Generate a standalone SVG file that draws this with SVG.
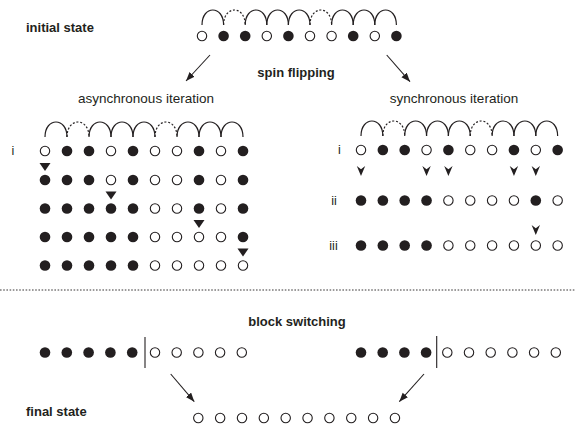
<svg xmlns="http://www.w3.org/2000/svg" width="575" height="427" viewBox="0 0 575 427">
<style>
.o{fill:#fff;stroke:#231f20;stroke-width:1.1}
.f{fill:#231f20}
.arc{fill:none;stroke:#231f20;stroke-width:1.2}
.dash{stroke-dasharray:2 1.8}
.t{font-family:"Liberation Sans",Arial,sans-serif;font-size:13.5px;fill:#231f20}
.b{font-family:"Liberation Sans",Arial,sans-serif;font-size:13px;font-weight:bold;fill:#231f20}
.lab{font-family:"Liberation Sans",Arial,sans-serif;font-size:12.5px;fill:#231f20;text-anchor:middle}
.line{stroke:#231f20;stroke-width:1.1;fill:none}
</style>
<defs>
<marker id="ah" markerUnits="userSpaceOnUse" markerWidth="10" markerHeight="8" refX="9" refY="3.5" orient="auto">
<path d="M0,0 L9,3.5 L0,7 z" fill="#231f20"/>
</marker>
<path id="vh" d="M0,10 L-4.2,0 L0,3.2 L4.2,0 Z" fill="#231f20"/>
<path id="td" d="M-5.5,0 L5.5,0 L0,8 Z" fill="#231f20"/>
</defs>

<!-- texts -->
<text class="b" x="26" y="32">initial state</text>
<text class="b" x="296" y="77" text-anchor="middle">spin flipping</text>
<text class="t" x="146" y="103" text-anchor="middle">asynchronous iteration</text>
<text class="t" x="454" y="103" text-anchor="middle">synchronous iteration</text>
<text class="b" x="297" y="326" text-anchor="middle">block switching</text>
<text class="b" x="26" y="416">final state</text>
<text class="lab" x="13" y="155">i</text>
<text class="lab" x="339.5" y="154">i</text>
<text class="lab" x="334" y="205">ii</text>
<text class="lab" x="333.5" y="250">iii</text>

<!-- initial state -->
<g id="initial">
<g class="arcs">
<path class="arc" d="M202,25 C202,5 223.6,5 223.6,25"/>
<path class="arc dash" d="M223.6,25 C223.6,5 245.2,5 245.2,25"/>
<path class="arc" d="M245.2,25 C245.2,5 266.8,5 266.8,25"/>
<path class="arc" d="M266.8,25 C266.8,5 288.4,5 288.4,25"/>
<path class="arc" d="M288.4,25 C288.4,5 310,5 310,25"/>
<path class="arc dash" d="M310,25 C310,5 331.6,5 331.6,25"/>
<path class="arc" d="M331.6,25 C331.6,5 353.2,5 353.2,25"/>
<path class="arc" d="M353.2,25 C353.2,5 374.8,5 374.8,25"/>
<path class="arc" d="M374.8,25 C374.8,5 396.4,5 396.4,25"/>
</g>
<circle class="o" cx="202" cy="36" r="4.7"/>
<circle class="f" cx="223.6" cy="36" r="5.3"/>
<circle class="f" cx="245.2" cy="36" r="5.3"/>
<circle class="o" cx="266.8" cy="36" r="4.7"/>
<circle class="f" cx="288.4" cy="36" r="5.3"/>
<circle class="o" cx="310" cy="36" r="4.7"/>
<circle class="o" cx="331.6" cy="36" r="4.7"/>
<circle class="f" cx="353.2" cy="36" r="5.3"/>
<circle class="o" cx="374.8" cy="36" r="4.7"/>
<circle class="f" cx="396.4" cy="36" r="5.3"/>
</g>

<!-- asynchronous -->
<g id="async">
<g class="arcs">
<path class="arc" d="M45,137 C45,117 67,117 67,137"/>
<path class="arc dash" d="M67,137 C67,117 89,117 89,137"/>
<path class="arc" d="M89,137 C89,117 111,117 111,137"/>
<path class="arc" d="M111,137 C111,117 133,117 133,137"/>
<path class="arc" d="M133,137 C133,117 155,117 155,137"/>
<path class="arc dash" d="M155,137 C155,117 177,117 177,137"/>
<path class="arc" d="M177,137 C177,117 199,117 199,137"/>
<path class="arc" d="M199,137 C199,117 221,117 221,137"/>
<path class="arc" d="M221,137 C221,117 243,117 243,137"/>
</g>
<g id="async-row1">
<circle class="o" cx="45" cy="151" r="4.7"/>
<circle class="f" cx="67" cy="151" r="5.3"/>
<circle class="f" cx="89" cy="151" r="5.3"/>
<circle class="o" cx="111" cy="151" r="4.7"/>
<circle class="f" cx="133" cy="151" r="5.3"/>
<circle class="o" cx="155" cy="151" r="4.7"/>
<circle class="o" cx="177" cy="151" r="4.7"/>
<circle class="f" cx="199" cy="151" r="5.3"/>
<circle class="o" cx="221" cy="151" r="4.7"/>
<circle class="f" cx="243" cy="151" r="5.3"/>
</g>
<use href="#td" x="45" y="163"/>
<g id="async-row2">
<circle class="f" cx="45" cy="180" r="5.3"/>
<circle class="f" cx="67" cy="180" r="5.3"/>
<circle class="f" cx="89" cy="180" r="5.3"/>
<circle class="o" cx="111" cy="180" r="4.7"/>
<circle class="f" cx="133" cy="180" r="5.3"/>
<circle class="o" cx="155" cy="180" r="4.7"/>
<circle class="o" cx="177" cy="180" r="4.7"/>
<circle class="f" cx="199" cy="180" r="5.3"/>
<circle class="o" cx="221" cy="180" r="4.7"/>
<circle class="f" cx="243" cy="180" r="5.3"/>
</g>
<use href="#td" x="111" y="191.5"/>
<g id="async-row3">
<circle class="f" cx="45" cy="208.5" r="5.3"/>
<circle class="f" cx="67" cy="208.5" r="5.3"/>
<circle class="f" cx="89" cy="208.5" r="5.3"/>
<circle class="f" cx="111" cy="208.5" r="5.3"/>
<circle class="f" cx="133" cy="208.5" r="5.3"/>
<circle class="o" cx="155" cy="208.5" r="4.7"/>
<circle class="o" cx="177" cy="208.5" r="4.7"/>
<circle class="f" cx="199" cy="208.5" r="5.3"/>
<circle class="o" cx="221" cy="208.5" r="4.7"/>
<circle class="f" cx="243" cy="208.5" r="5.3"/>
</g>
<use href="#td" x="199" y="220"/>
<g id="async-row4">
<circle class="f" cx="45" cy="237" r="5.3"/>
<circle class="f" cx="67" cy="237" r="5.3"/>
<circle class="f" cx="89" cy="237" r="5.3"/>
<circle class="f" cx="111" cy="237" r="5.3"/>
<circle class="f" cx="133" cy="237" r="5.3"/>
<circle class="o" cx="155" cy="237" r="4.7"/>
<circle class="o" cx="177" cy="237" r="4.7"/>
<circle class="o" cx="199" cy="237" r="4.7"/>
<circle class="o" cx="221" cy="237" r="4.7"/>
<circle class="f" cx="243" cy="237" r="5.3"/>
</g>
<use href="#td" x="243" y="248.5"/>
<g id="async-row5">
<circle class="f" cx="45" cy="265.5" r="5.3"/>
<circle class="f" cx="67" cy="265.5" r="5.3"/>
<circle class="f" cx="89" cy="265.5" r="5.3"/>
<circle class="f" cx="111" cy="265.5" r="5.3"/>
<circle class="f" cx="133" cy="265.5" r="5.3"/>
<circle class="o" cx="155" cy="265.5" r="4.7"/>
<circle class="o" cx="177" cy="265.5" r="4.7"/>
<circle class="o" cx="199" cy="265.5" r="4.7"/>
<circle class="o" cx="221" cy="265.5" r="4.7"/>
<circle class="o" cx="243" cy="265.5" r="4.7"/>
</g>
</g>

<!-- synchronous -->
<g id="sync">
<g class="arcs">
<path class="arc" d="M361,136 C361,116 382.85,116 382.85,136"/>
<path class="arc dash" d="M382.85,136 C382.85,116 404.7,116 404.7,136"/>
<path class="arc" d="M404.7,136 C404.7,116 426.55,116 426.55,136"/>
<path class="arc" d="M426.55,136 C426.55,116 448.4,116 448.4,136"/>
<path class="arc" d="M448.4,136 C448.4,116 470.25,116 470.25,136"/>
<path class="arc dash" d="M470.25,136 C470.25,116 492.1,116 492.1,136"/>
<path class="arc" d="M492.1,136 C492.1,116 513.95,116 513.95,136"/>
<path class="arc" d="M513.95,136 C513.95,116 535.8,116 535.8,136"/>
<path class="arc" d="M535.8,136 C535.8,116 557.65,116 557.65,136"/>
</g>
<g id="sync-row1">
<circle class="o" cx="361" cy="150" r="4.7"/>
<circle class="f" cx="382.85" cy="150" r="5.3"/>
<circle class="f" cx="404.7" cy="150" r="5.3"/>
<circle class="o" cx="426.55" cy="150" r="4.7"/>
<circle class="f" cx="448.4" cy="150" r="5.3"/>
<circle class="o" cx="470.25" cy="150" r="4.7"/>
<circle class="o" cx="492.1" cy="150" r="4.7"/>
<circle class="f" cx="513.95" cy="150" r="5.3"/>
<circle class="o" cx="535.8" cy="150" r="4.7"/>
<circle class="f" cx="557.65" cy="150" r="5.3"/>
</g>
<use href="#vh" x="361" y="166"/>
<use href="#vh" x="426.55" y="166"/>
<use href="#vh" x="448.4" y="166"/>
<use href="#vh" x="513.95" y="166"/>
<use href="#vh" x="535.8" y="166"/>
<g id="sync-row2">
<circle class="f" cx="361" cy="200.5" r="5.3"/>
<circle class="f" cx="382.85" cy="200.5" r="5.3"/>
<circle class="f" cx="404.7" cy="200.5" r="5.3"/>
<circle class="f" cx="426.55" cy="200.5" r="5.3"/>
<circle class="o" cx="448.4" cy="200.5" r="4.7"/>
<circle class="o" cx="470.25" cy="200.5" r="4.7"/>
<circle class="o" cx="492.1" cy="200.5" r="4.7"/>
<circle class="o" cx="513.95" cy="200.5" r="4.7"/>
<circle class="f" cx="535.8" cy="200.5" r="5.3"/>
<circle class="o" cx="557.65" cy="200.5" r="4.7"/>
</g>
<use href="#vh" x="535.8" y="225"/>
<g id="sync-row3">
<circle class="f" cx="361" cy="245.5" r="5.3"/>
<circle class="f" cx="382.85" cy="245.5" r="5.3"/>
<circle class="f" cx="404.7" cy="245.5" r="5.3"/>
<circle class="f" cx="426.55" cy="245.5" r="5.3"/>
<circle class="o" cx="448.4" cy="245.5" r="4.7"/>
<circle class="o" cx="470.25" cy="245.5" r="4.7"/>
<circle class="o" cx="492.1" cy="245.5" r="4.7"/>
<circle class="o" cx="513.95" cy="245.5" r="4.7"/>
<circle class="o" cx="535.8" cy="245.5" r="4.7"/>
<circle class="o" cx="557.65" cy="245.5" r="4.7"/>
</g>
</g>

<!-- separator -->
<line x1="0" y1="290" x2="575" y2="290" stroke="#231f20" stroke-width="0.9" stroke-dasharray="1.6 1.6"/>

<!-- block switching -->
<g id="block-left">
<circle class="f" cx="45" cy="352.5" r="5.3"/>
<circle class="f" cx="66.8" cy="352.5" r="5.3"/>
<circle class="f" cx="88.6" cy="352.5" r="5.3"/>
<circle class="f" cx="110.4" cy="352.5" r="5.3"/>
<circle class="f" cx="132.2" cy="352.5" r="5.3"/>
<line class="line" x1="145" y1="337" x2="145" y2="368"/>
<circle class="o" cx="155" cy="352.5" r="4.7"/>
<circle class="o" cx="176.7" cy="352.5" r="4.7"/>
<circle class="o" cx="198.4" cy="352.5" r="4.7"/>
<circle class="o" cx="220.1" cy="352.5" r="4.7"/>
<circle class="o" cx="241.8" cy="352.5" r="4.7"/>
</g>
<g id="block-right">
<circle class="f" cx="361" cy="352.5" r="5.3"/>
<circle class="f" cx="382.7" cy="352.5" r="5.3"/>
<circle class="f" cx="404.4" cy="352.5" r="5.3"/>
<circle class="f" cx="426.1" cy="352.5" r="5.3"/>
<line class="line" x1="436.7" y1="336" x2="436.7" y2="368"/>
<circle class="o" cx="447.3" cy="352.5" r="4.7"/>
<circle class="o" cx="469" cy="352.5" r="4.7"/>
<circle class="o" cx="490.7" cy="352.5" r="4.7"/>
<circle class="o" cx="512.4" cy="352.5" r="4.7"/>
<circle class="o" cx="534.1" cy="352.5" r="4.7"/>
<circle class="o" cx="555.8" cy="352.5" r="4.7"/>
</g>

<!-- final state -->
<g id="final">
<circle class="o" cx="198.3" cy="418" r="4.7"/>
<circle class="o" cx="220.15" cy="418" r="4.7"/>
<circle class="o" cx="242" cy="418" r="4.7"/>
<circle class="o" cx="263.85" cy="418" r="4.7"/>
<circle class="o" cx="285.7" cy="418" r="4.7"/>
<circle class="o" cx="307.55" cy="418" r="4.7"/>
<circle class="o" cx="329.4" cy="418" r="4.7"/>
<circle class="o" cx="351.25" cy="418" r="4.7"/>
<circle class="o" cx="373.1" cy="418" r="4.7"/>
<circle class="o" cx="394.95" cy="418" r="4.7"/>
</g>

<!-- connectors -->
<g id="connectors">
<line class="line" x1="210" y1="55" x2="186" y2="81" marker-end="url(#ah)"/>
<line class="line" x1="386.7" y1="55" x2="410" y2="81.7" marker-end="url(#ah)"/>
<line class="line" x1="170.7" y1="374" x2="194.3" y2="401.7" marker-end="url(#ah)"/>
<line class="line" x1="424" y1="374" x2="399.3" y2="401.7" marker-end="url(#ah)"/>
</g>
</svg>
